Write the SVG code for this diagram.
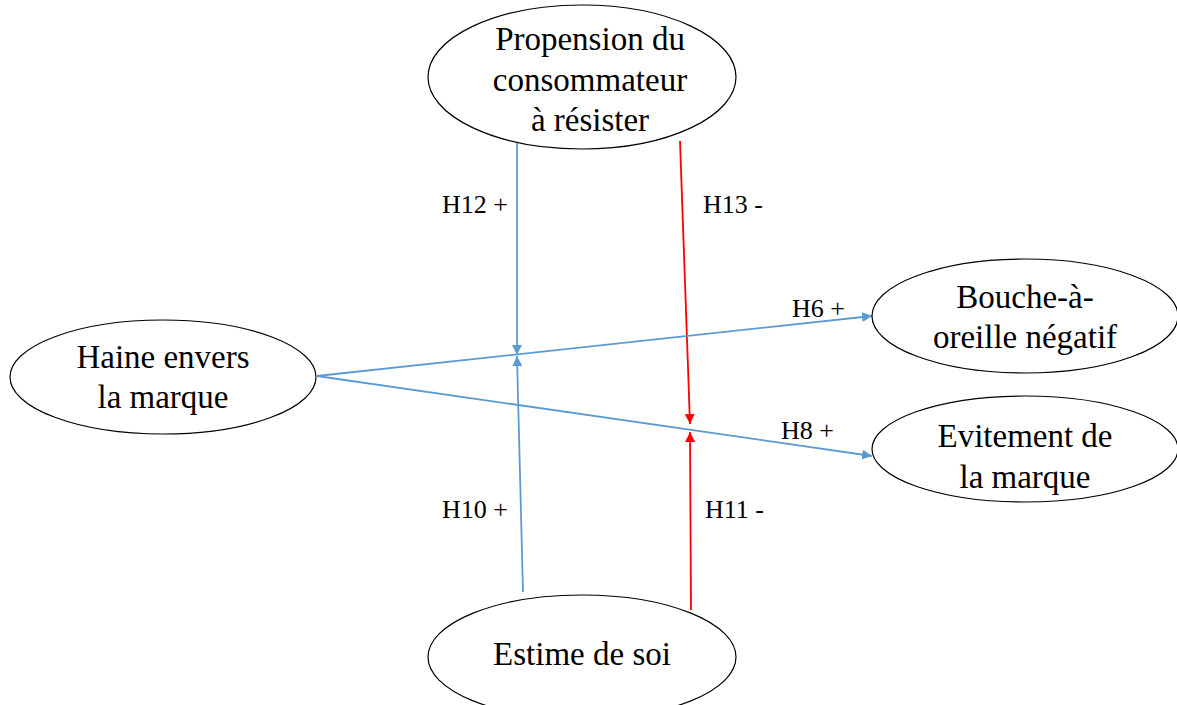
<svg xmlns="http://www.w3.org/2000/svg" width="1177" height="705" viewBox="0 0 1177 705">
  <style>
    .shape { fill: #ffffff; stroke: #000000; stroke-width: 1.2; }
    .edge { fill: none; stroke-width: 1.8; }
    .blue { stroke: #5B9BD5; }
    .red { stroke: #FF0000; }
  </style>
  <defs>
    <marker id="arrBlue" viewBox="0 0 10 10" refX="10" refY="5" markerWidth="10" markerHeight="10" markerUnits="userSpaceOnUse" orient="auto">
      <path d="M0,0 L10,5 L0,10 Z" fill="#5B9BD5"/>
    </marker>
    <marker id="arrRed" viewBox="0 0 10 10" refX="10" refY="5" markerWidth="10" markerHeight="10" markerUnits="userSpaceOnUse" orient="auto">
      <path d="M0,0 L10,5 L0,10 Z" fill="#FF0000"/>
    </marker>
  </defs>

  <!-- connectors -->
  <g id="connectors">
    <line class="edge blue" x1="517" y1="143" x2="517" y2="355" marker-end="url(#arrBlue)"/>
    <line class="edge blue" x1="523" y1="592" x2="517" y2="356" marker-end="url(#arrBlue)"/>
    <line class="edge red" x1="680" y1="141" x2="690" y2="424" marker-end="url(#arrRed)"/>
    <line class="edge red" x1="691" y1="610" x2="690" y2="432" marker-end="url(#arrRed)"/>
    <line class="edge blue" x1="317" y1="376" x2="872" y2="316" marker-end="url(#arrBlue)"/>
    <line class="edge blue" x1="317" y1="376" x2="872" y2="456" marker-end="url(#arrBlue)"/>
    <text x="442" y="213" font-family="Liberation Serif" font-size="26">H12 +</text>
    <text x="703" y="213" font-family="Liberation Serif" font-size="26">H13 -</text>
    <text x="792" y="317" font-family="Liberation Serif" font-size="26">H6 +</text>
    <text x="781" y="439" font-family="Liberation Serif" font-size="26">H8 +</text>
    <text x="442" y="518" font-family="Liberation Serif" font-size="26">H10 +</text>
    <text x="705" y="518" font-family="Liberation Serif" font-size="26">H11 -</text>
  </g>

  <!-- nodes -->
  <g id="node-propension">
    <ellipse class="shape" cx="582" cy="77" rx="154" ry="72"/>
    <text x="590" y="50" font-family="Liberation Serif" font-size="33" text-anchor="middle">Propension du</text>
    <text x="590" y="91" font-family="Liberation Serif" font-size="33" text-anchor="middle">consommateur</text>
    <text x="590" y="131" font-family="Liberation Serif" font-size="33" text-anchor="middle">à résister</text>
  </g>
  <g id="node-haine">
    <ellipse class="shape" cx="163" cy="377" rx="153" ry="57"/>
    <text x="163" y="368" font-family="Liberation Serif" font-size="33" text-anchor="middle">Haine envers</text>
    <text x="163" y="408" font-family="Liberation Serif" font-size="33" text-anchor="middle">la marque</text>
  </g>
  <g id="node-bouche">
    <ellipse class="shape" cx="1025" cy="316" rx="153" ry="57"/>
    <text x="1025" y="308" font-family="Liberation Serif" font-size="33" text-anchor="middle">Bouche-à-</text>
    <text x="1025" y="348" font-family="Liberation Serif" font-size="33" text-anchor="middle">oreille négatif</text>
  </g>
  <g id="node-evitement">
    <ellipse class="shape" cx="1025" cy="449" rx="153" ry="53"/>
    <text x="1025" y="447" font-family="Liberation Serif" font-size="33" text-anchor="middle">Evitement de</text>
    <text x="1025" y="488" font-family="Liberation Serif" font-size="33" text-anchor="middle">la marque</text>
  </g>
  <g id="node-estime">
    <ellipse class="shape" cx="582" cy="657" rx="154" ry="62"/>
    <text x="582" y="665" font-family="Liberation Serif" font-size="33" text-anchor="middle">Estime de soi</text>
  </g>
</svg>
